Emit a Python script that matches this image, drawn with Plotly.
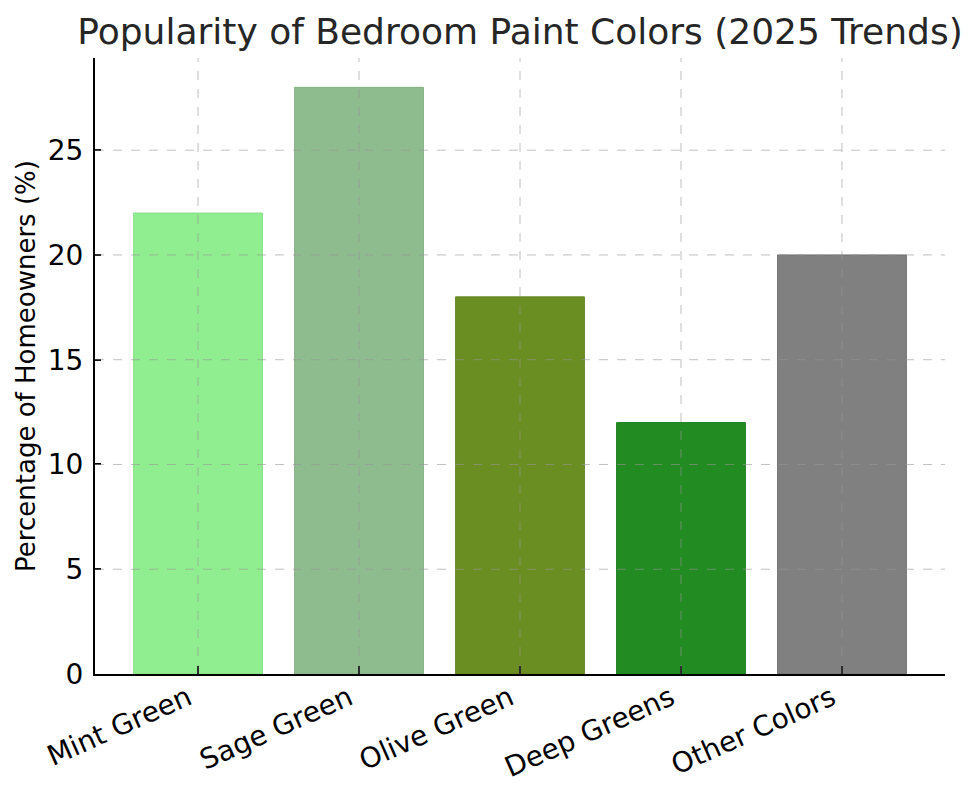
import plotly.graph_objects as go

categories = ["Mint Green", "Sage Green", "Olive Green", "Deep Greens", "Other Colors"]
percentages = [22, 28, 18, 12, 20]
y_ticks = [0, 5, 10, 15, 20, 25]
bar_colors = ["#90EE90", "#8FBC8F", "#6B8E23", "#228B22", "#808080"]
edge_colors = ["#86DE86", "#85AF85", "#628320", "#1F7F1F", "#707070"]

fig = go.Figure()
fig.add_trace(go.Bar(
    x=categories, y=percentages,
    marker=dict(color=bar_colors, line=dict(color=edge_colors, width=1)),
    width=0.8,
))

# grid sits on top of the bars, like matplotlib's default
grid_line = dict(color="rgba(150,150,150,0.6)", width=1, dash="dash")
for t in y_ticks[1:]:
    fig.add_hline(y=t, line=grid_line, layer="above")
for c in categories:
    fig.add_vline(x=c, line=grid_line, layer="above")

# the page body has an 8px margin, so the figure is a bit smaller than the window
fig.update_layout(
    width=972, height=789,
    margin=dict(l=87, r=35, t=50, b=123),
    plot_bgcolor="white", paper_bgcolor="white",
    font=dict(family="DejaVu Sans", color="black", size=26),
    title=dict(text="Popularity of Bedroom Paint Colors (2025 Trends)",
               x=0.5, xref="paper", xanchor="center", y=0.97, yanchor="middle",
               font=dict(size=36, color="#262626")),
    showlegend=False,
    bargap=0.2,
)
fig.update_xaxes(
    range=[-0.64, 4.64], tickangle=-24, automargin=False,
    tickfont=dict(size=28, family="DejaVu Sans", color="black"),
    ticklabelstandoff=-5, ticklabelshift=-10,
    showline=True, linecolor="black", linewidth=2,
    ticks="inside", ticklen=8, tickwidth=1.5, tickcolor="black",
    layer="above traces", zeroline=False, showgrid=False,
)
fig.update_yaxes(
    range=[0, 29.4], tickvals=y_ticks, automargin=False,
    tickfont=dict(size=28, family="DejaVu Sans", color="black"),
    ticklabelstandoff=4,
    title=dict(text="Percentage of Homeowners (%)", standoff=5,
               font=dict(size=26, family="DejaVu Sans", color="black")),
    showline=True, linecolor="black", linewidth=2,
    ticks="inside", ticklen=6, tickwidth=1.5, tickcolor="black",
    layer="above traces", zeroline=False, showgrid=False,
)

fig.write_html("out.html")
